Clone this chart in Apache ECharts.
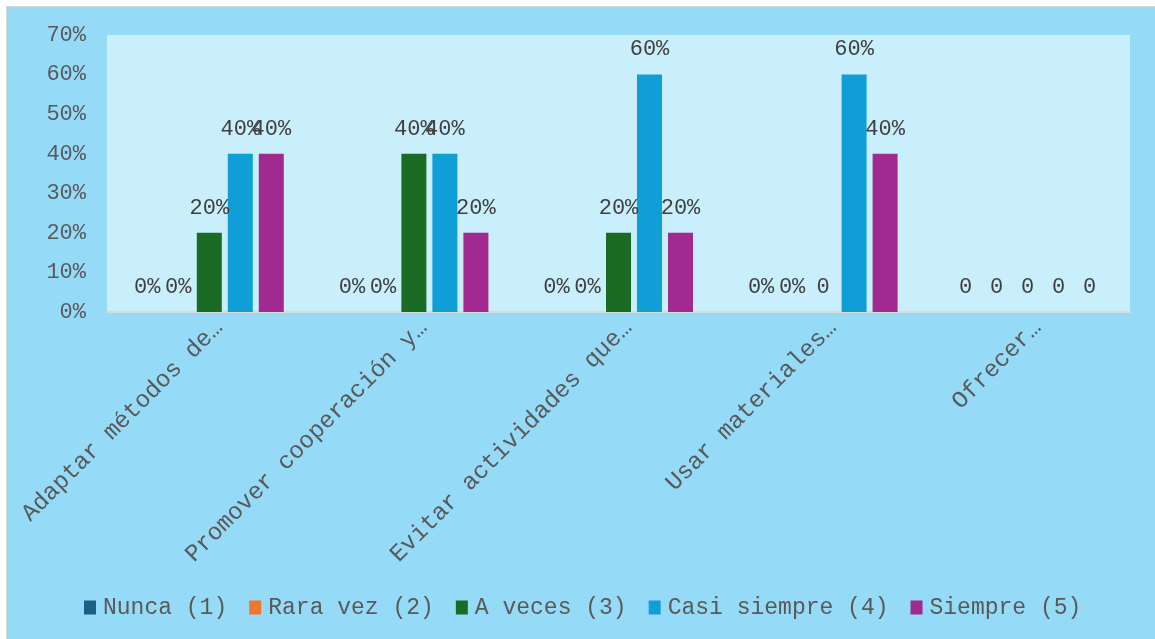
<!DOCTYPE html>
<html>
<head>
<meta charset="utf-8">
<script src="https://cdn.jsdelivr.net/npm/echarts@6/dist/echarts.min.js"></script>
<style>
html,body{margin:0;padding:0;background:#ffffff;width:1155px;height:639px;overflow:hidden;}
#wrap{position:absolute;left:6px;top:6px;width:1149px;height:633px;border-top:1px solid #d6d6d6;border-left:1px solid #d6d6d6;box-sizing:border-box;background:#95dbf7;}
#chart{width:1148px;height:632px;}
</style>
</head>
<body>
<div id="wrap"><div id="chart"></div></div>
<script>
const categories = ['Adaptar métodos de…', 'Promover cooperación y…', 'Evitar actividades que…', 'Usar materiales…', 'Ofrecer…'];
const seriesNames = ['Nunca (1)', 'Rara vez (2)', 'A veces (3)', 'Casi siempre (4)', 'Siempre (5)'];
const nunca = [0, 0, 0, 0, 0];
const raraVez = [0, 0, 0, 0, 0];
const aVeces = [20, 40, 20, 0, 0];
const casiSiempre = [40, 40, 60, 60, 0];
const siempre = [40, 20, 20, 40, 0];
const nuncaLabels = ['0%', '0%', '0%', '0%', '0'];
const raraVezLabels = ['0%', '0%', '0%', '0%', '0'];
const aVecesLabels = ['20%', '40%', '20%', '0', '0'];
const casiSiempreLabels = ['40%', '40%', '60%', '60%', '0'];
const siempreLabels = ['40%', '20%', '20%', '40%', '0'];
const yTicks = [0, 10, 20, 30, 40, 50, 60, 70];
const colors = ['#1b5f87', '#ef7530', '#1a6b24', '#109ed6', '#a02a8f'];

const FONT = "'Liberation Mono', 'Courier New', monospace";
const allValues = [nunca, raraVez, aVeces, casiSiempre, siempre];
const allLabels = [nuncaLabels, raraVezLabels, aVecesLabels, casiSiempreLabels, siempreLabels];

const chart = echarts.init(document.getElementById('chart'), null, {renderer: 'canvas'});
chart.setOption({
  backgroundColor: '#95dbf7',
  animation: false,
  color: colors,
  grid: {left: 100, right: 25, top: 28, bottom: 327, backgroundColor: '#c9eefc', show: true, borderWidth: 0},
  legend: {
    data: seriesNames,
    top: 584,
    left: 72,
    icon: 'rect',
    itemWidth: 12,
    itemHeight: 14,
    itemGap: 22,
    textStyle: {fontFamily: FONT, fontSize: 23, color: '#595959', padding: [0, 0, 0, 2]}
  },
  xAxis: {
    type: 'category',
    data: categories,
    axisLine: {lineStyle: {color: '#d9d9d9', width: 2}},
    axisTick: {show: false},
    axisLabel: {rotate: 45, margin: 22, interval: 0, padding: [0, -14, 0, 0], fontFamily: FONT, fontSize: 24, color: '#595959'}
  },
  yAxis: {
    type: 'value',
    min: yTicks[0],
    max: yTicks[yTicks.length - 1],
    interval: 10,
    splitLine: {show: false},
    axisLine: {show: false},
    axisTick: {show: false},
    axisLabel: {margin: 21, formatter: '{value}%', fontFamily: FONT, fontSize: 22, color: '#595959'}
  },
  series: seriesNames.map((name, i) => ({
    name: name,
    type: 'bar',
    data: allValues[i],
    barWidth: 25,
    barGap: '24%',
    itemStyle: {color: colors[i]},
    label: {
      show: true,
      position: 'top',
      distance: 14,
      fontFamily: FONT,
      fontSize: 22,
      color: '#404040',
      formatter: p => allLabels[i][p.dataIndex]
    }
  }))
});
</script>
</body>
</html>
